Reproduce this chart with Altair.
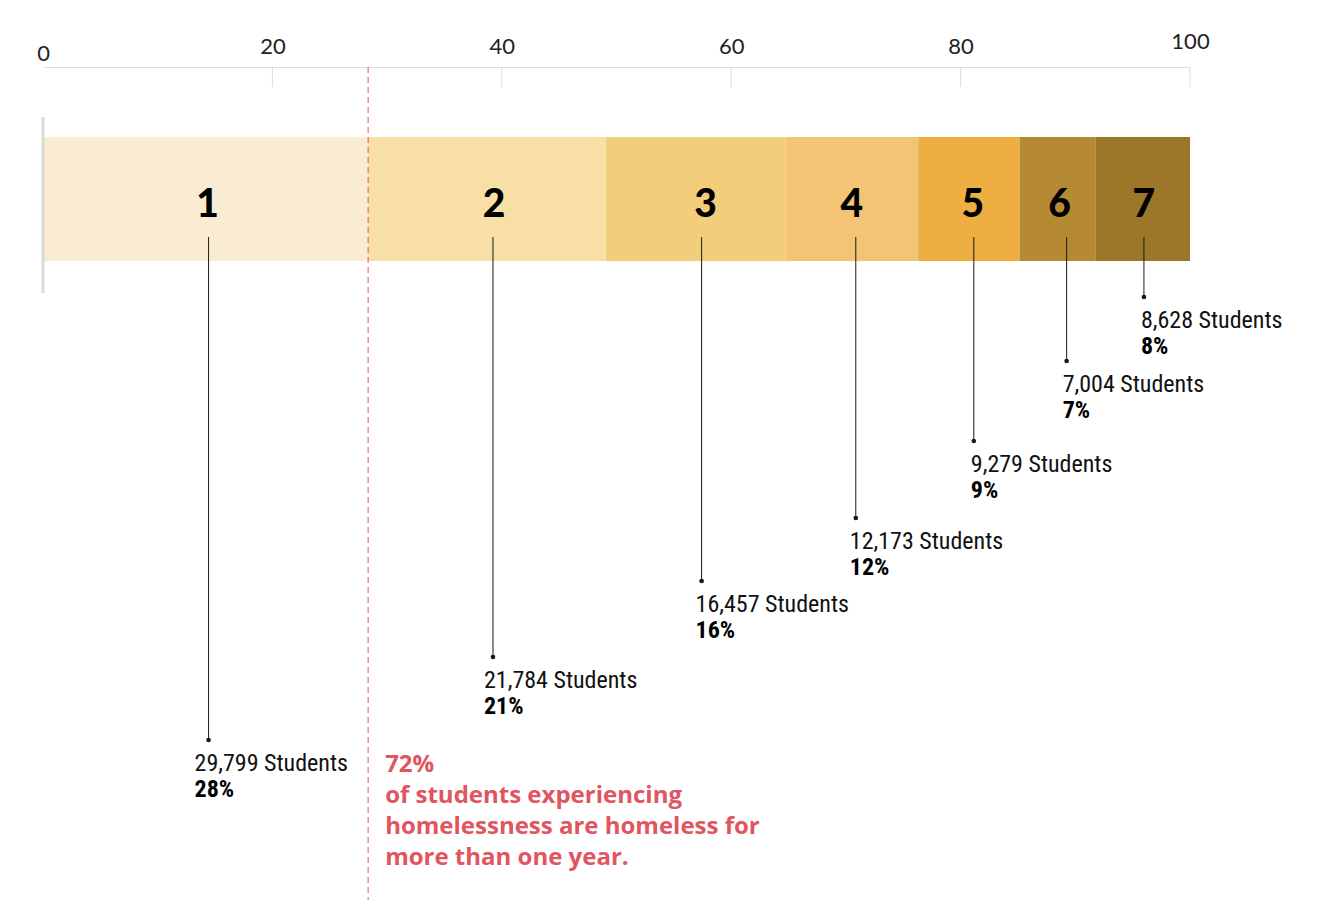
import altair as alt
import pandas as pd

# ---------------- data ----------------
categories = ["1", "2", "3", "4", "5", "6", "7"]
students = [29799, 21784, 16457, 12173, 9279, 7004, 8628]
percents = [28, 21, 16, 12, 9, 7, 8]
colors = ["#FAECD2", "#F8DFA6", "#F2CE7B", "#F2C474", "#EEAF42", "#B68A33", "#9C7629"]
axis_ticks = [0, 20, 40, 60, 80, 100]
note_lines = [
    "72%",
    "of students experiencing",
    "homelessness are homeless for",
    "more than one year.",
]

# ---------------- layout (pixel units) ----------------
W, H = 1147, 833
PX = 100 / W                      # data units per pixel on x
BAR_TOP, BAR_BOTTOM = 70, 194
NUM_Y = 138
LEADER_TOP = 170
leader_ends = [673, 590, 514, 451, 374, 294, 230]
number_nudge = [2, 7, 10, 0, 4, 2, 1]      # px
leader_nudge = [3, 6, 6, 4, 5, 9, 1]       # px
label_dx = [-14, -9, -6, -6, -3, -4, -3]   # px, relative to leader
NOTE_Y0, NOTE_STEP = 698, 31
RED = "#E0555F"
INK = "#1a1a1a"

df = pd.DataFrame({"cat": categories, "students": students, "pct": percents})
df["share"] = df["students"] / df["students"].sum() * 100
df["end"] = df["share"].cumsum()
df["start"] = df["end"] - df["share"]
df["mid"] = (df["start"] + df["end"]) / 2
df["num_x"] = df["mid"] + pd.Series(number_nudge) * PX
df["lead_x"] = df["mid"] + pd.Series(leader_nudge) * PX
df["lab_x"] = df["lead_x"] + pd.Series(label_dx) * PX
df["stud_label"] = df["students"].map(lambda v: f"{v:,} Students")
df["pct_label"] = df["pct"].map(lambda v: f"{v}%")
df["leader_end"] = leader_ends
df["stud_y"] = df["leader_end"] + 24
df["pct_y"] = df["leader_end"] + 50
df["bar_top"] = BAR_TOP
df["bar_bottom"] = BAR_BOTTOM
df["num_y"] = NUM_Y
df["leader_top"] = LEADER_TOP

notes = pd.DataFrame({"line": note_lines})
notes["y"] = [NOTE_Y0 + i * NOTE_STEP for i in range(len(note_lines))]
notes["x"] = float(df["end"].iloc[0])

ticks_df = pd.DataFrame({"t": axis_ticks[1:], "y0": 0, "y1": 20})
left_df = pd.DataFrame({"x": [0], "y0": [50], "y1": [226]})
red_df = pd.DataFrame({"x": [float(df["end"].iloc[0])], "y0": [0], "y1": [H]})

xscale = alt.Scale(domain=[0, 100], nice=False, zero=False)
yscale = alt.Scale(domain=[0, H], reverse=True, nice=False, zero=False)
xaxis = alt.Axis(
    orient="top", values=axis_ticks, grid=False, ticks=False, tickSize=0,
    domainColor="#dddddd", domainWidth=1, labelFont="Lato", labelFontSize=22,
    labelColor="#222222", labelFlush=False, labelOverlap=False, title=None,
    labelBaseline={"condition": {"test": "datum.value === 100", "value": "bottom"},
                   "value": "alphabetic"},
    labelPadding={"condition": {"test": "datum.value === 0", "value": 7}, "value": 14},
)


def X(field):
    return alt.X(field, type="quantitative", scale=xscale, axis=xaxis)


def Y(field):
    return alt.Y(field, type="quantitative", scale=yscale, axis=None)


base = alt.Chart(df)

bars = base.mark_bar(cornerRadius=0).encode(
    x=X("start"), x2="end", y=Y("bar_top"), y2="bar_bottom",
    color=alt.Color("cat:N", scale=alt.Scale(domain=categories, range=colors), legend=None),
)

tick_rules = alt.Chart(ticks_df).mark_rule(color="#dddddd", strokeWidth=1).encode(
    x=X("t"), y=Y("y0"), y2="y1"
)

left_rule = alt.Chart(left_df).mark_rule(color="#d9d9d9", strokeWidth=3).encode(
    x=X("x"), y=Y("y0"), y2="y1"
)

numbers = base.mark_text(
    font="Lato", fontWeight=900, fontSize=39, color="#000000", baseline="middle", align="center"
).encode(x=X("num_x"), y=Y("num_y"), text="cat:N")

leaders = base.mark_rule(color=INK, strokeWidth=1).encode(
    x=X("lead_x"), y=Y("leader_top"), y2="leader_end"
)

dots = base.mark_point(filled=True, size=22, color=INK, opacity=1).encode(
    x=X("lead_x"), y=Y("leader_end")
)

LABEL_FONT = "Liberation Sans Narrow, Roboto Condensed, DejaVu Sans Condensed, sans-serif"
stud_text = base.mark_text(
    font=LABEL_FONT, fontSize=24, color="#111111", align="left", baseline="middle"
).encode(x=X("lab_x"), y=Y("stud_y"), text="stud_label:N")

pct_text = base.mark_text(
    font=LABEL_FONT, fontSize=24, fontWeight="bold", color="#000000", align="left",
    baseline="middle"
).encode(x=X("lab_x"), y=Y("pct_y"), text="pct_label:N")

red_line = alt.Chart(red_df).mark_rule(
    color=RED, strokeWidth=1, strokeDash=[6, 4]
).encode(x=X("x"), y=Y("y0"), y2="y1")

note_text = alt.Chart(notes).mark_text(
    font="Open Sans", fontWeight="bold", fontSize=24, color=RED,
    align="left", baseline="middle", dx=17
).encode(x=X("x"), y=Y("y"), text="line:N")

chart = alt.layer(
    bars, tick_rules, red_line, left_rule, numbers, leaders, dots, stud_text, pct_text, note_text
).properties(
    width=W, height=H,
    autosize=alt.AutoSizeParams(type="none"),
    padding={"left": 35, "top": 59, "right": 128, "bottom": 8},
).configure_view(strokeWidth=0, stroke=None)

chart.save("out.html", embed_options={"renderer": "svg", "actions": False})
